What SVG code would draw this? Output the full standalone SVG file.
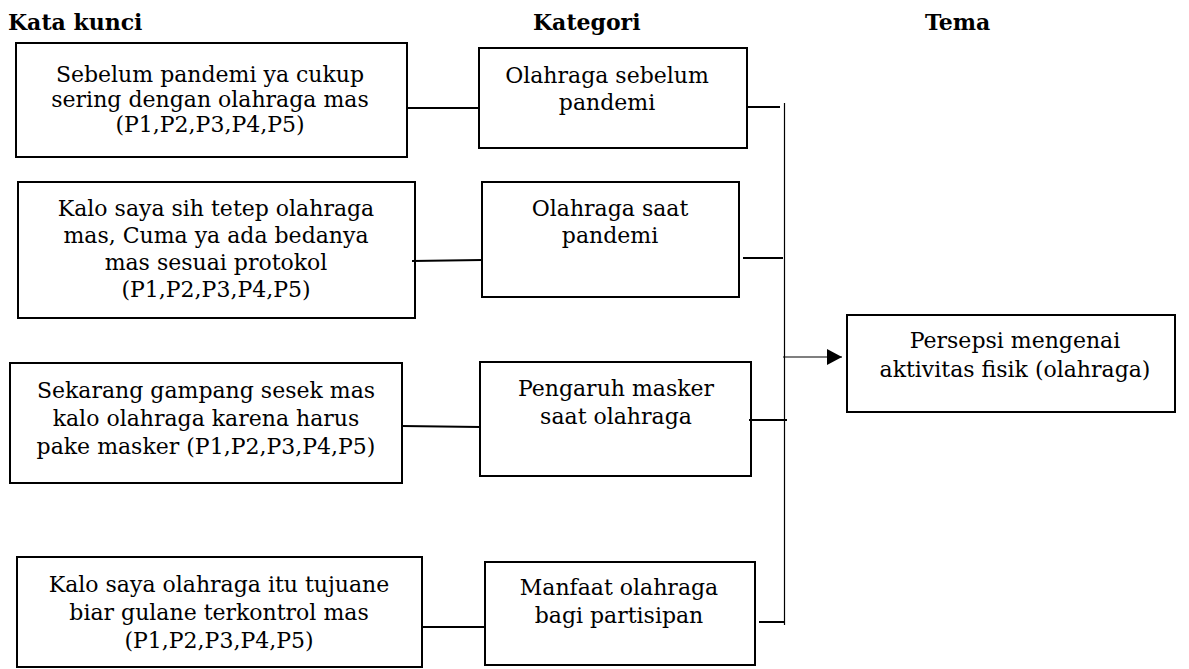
<svg xmlns="http://www.w3.org/2000/svg" width="1189" height="669" viewBox="0 0 1189 669">
<style>
.box{fill:#fff;stroke:#000;stroke-width:2}
.t{font-family:"DejaVu Serif","Liberation Serif",serif;font-size:22px;fill:#000;text-anchor:middle}
.h{font-family:"DejaVu Serif","Liberation Serif",serif;font-size:22px;font-weight:bold;fill:#000}
.c{stroke:#000;stroke-width:2;fill:none}
.v{stroke:#000;stroke-width:1.2;fill:none}
</style>
<defs>
<marker id="ah" markerWidth="16" markerHeight="16" refX="15" refY="8" orient="auto" markerUnits="userSpaceOnUse">
<path d="M0,0 L15,8 L0,16 Z" fill="#000"/>
</marker>
</defs>
<g id="headers">
<text class="h" x="8" y="30">Kata kunci</text>
<text class="h" x="533" y="30">Kategori</text>
<text class="h" x="925" y="30">Tema</text>
</g>
<g id="k1">
<rect class="box" x="16" y="43" width="391" height="114"/>
<text class="t" x="210" y="82">Sebelum pandemi ya cukup</text>
<text class="t" x="210" y="107">sering dengan olahraga mas</text>
<text class="t" x="210" y="132">(P1,P2,P3,P4,P5)</text>
</g>
<g id="k2">
<rect class="box" x="18" y="182" width="397" height="136"/>
<text class="t" x="216" y="216">Kalo saya sih tetep olahraga</text>
<text class="t" x="216" y="243">mas, Cuma ya ada bedanya</text>
<text class="t" x="216" y="270">mas sesuai protokol</text>
<text class="t" x="216" y="297">(P1,P2,P3,P4,P5)</text>
</g>
<g id="k3">
<rect class="box" x="10" y="363" width="392" height="120"/>
<text class="t" x="206" y="398">Sekarang gampang sesek mas</text>
<text class="t" x="206" y="426">kalo olahraga karena harus</text>
<text class="t" x="206" y="454">pake masker (P1,P2,P3,P4,P5)</text>
</g>
<g id="k4">
<rect class="box" x="17" y="557" width="405" height="110"/>
<text class="t" x="219" y="592">Kalo saya olahraga itu tujuane</text>
<text class="t" x="219" y="620">biar gulane terkontrol mas</text>
<text class="t" x="219" y="648">(P1,P2,P3,P4,P5)</text>
</g>
<g id="c1">
<rect class="box" x="479" y="48" width="268" height="100"/>
<text class="t" x="607" y="83">Olahraga sebelum</text>
<text class="t" x="607" y="110">pandemi</text>
</g>
<g id="c2">
<rect class="box" x="482" y="182" width="257" height="115"/>
<text class="t" x="610" y="216">Olahraga saat</text>
<text class="t" x="610" y="243">pandemi</text>
</g>
<g id="c3">
<rect class="box" x="480" y="362" width="271" height="114"/>
<text class="t" x="616" y="396">Pengaruh masker</text>
<text class="t" x="616" y="424">saat olahraga</text>
</g>
<g id="c4">
<rect class="box" x="485" y="562" width="270" height="103"/>
<text class="t" x="619" y="595">Manfaat olahraga</text>
<text class="t" x="619" y="623">bagi partisipan</text>
</g>
<g id="theme">
<rect class="box" x="847" y="315" width="328" height="97"/>
<text class="t" x="1015" y="348">Persepsi mengenai</text>
<text class="t" x="1015" y="377">aktivitas fisik (olahraga)</text>
</g>
<g id="connectors">
<line class="c" x1="407" y1="108" x2="479" y2="108"/>
<line class="c" x1="412" y1="261" x2="482" y2="260"/>
<line class="c" x1="402" y1="426" x2="480" y2="427"/>
<line class="c" x1="422" y1="627" x2="485" y2="627"/>
<line class="c" x1="747" y1="107" x2="780" y2="107"/>
<line class="c" x1="743" y1="258" x2="783" y2="258"/>
<line class="c" x1="749" y1="420" x2="787" y2="420"/>
<line class="c" x1="759" y1="622" x2="784" y2="622"/>
<line class="v" x1="784.5" y1="103" x2="784.5" y2="625"/>
<line class="v" x1="783" y1="357" x2="842" y2="357" marker-end="url(#ah)"/>
</g>
</svg>
